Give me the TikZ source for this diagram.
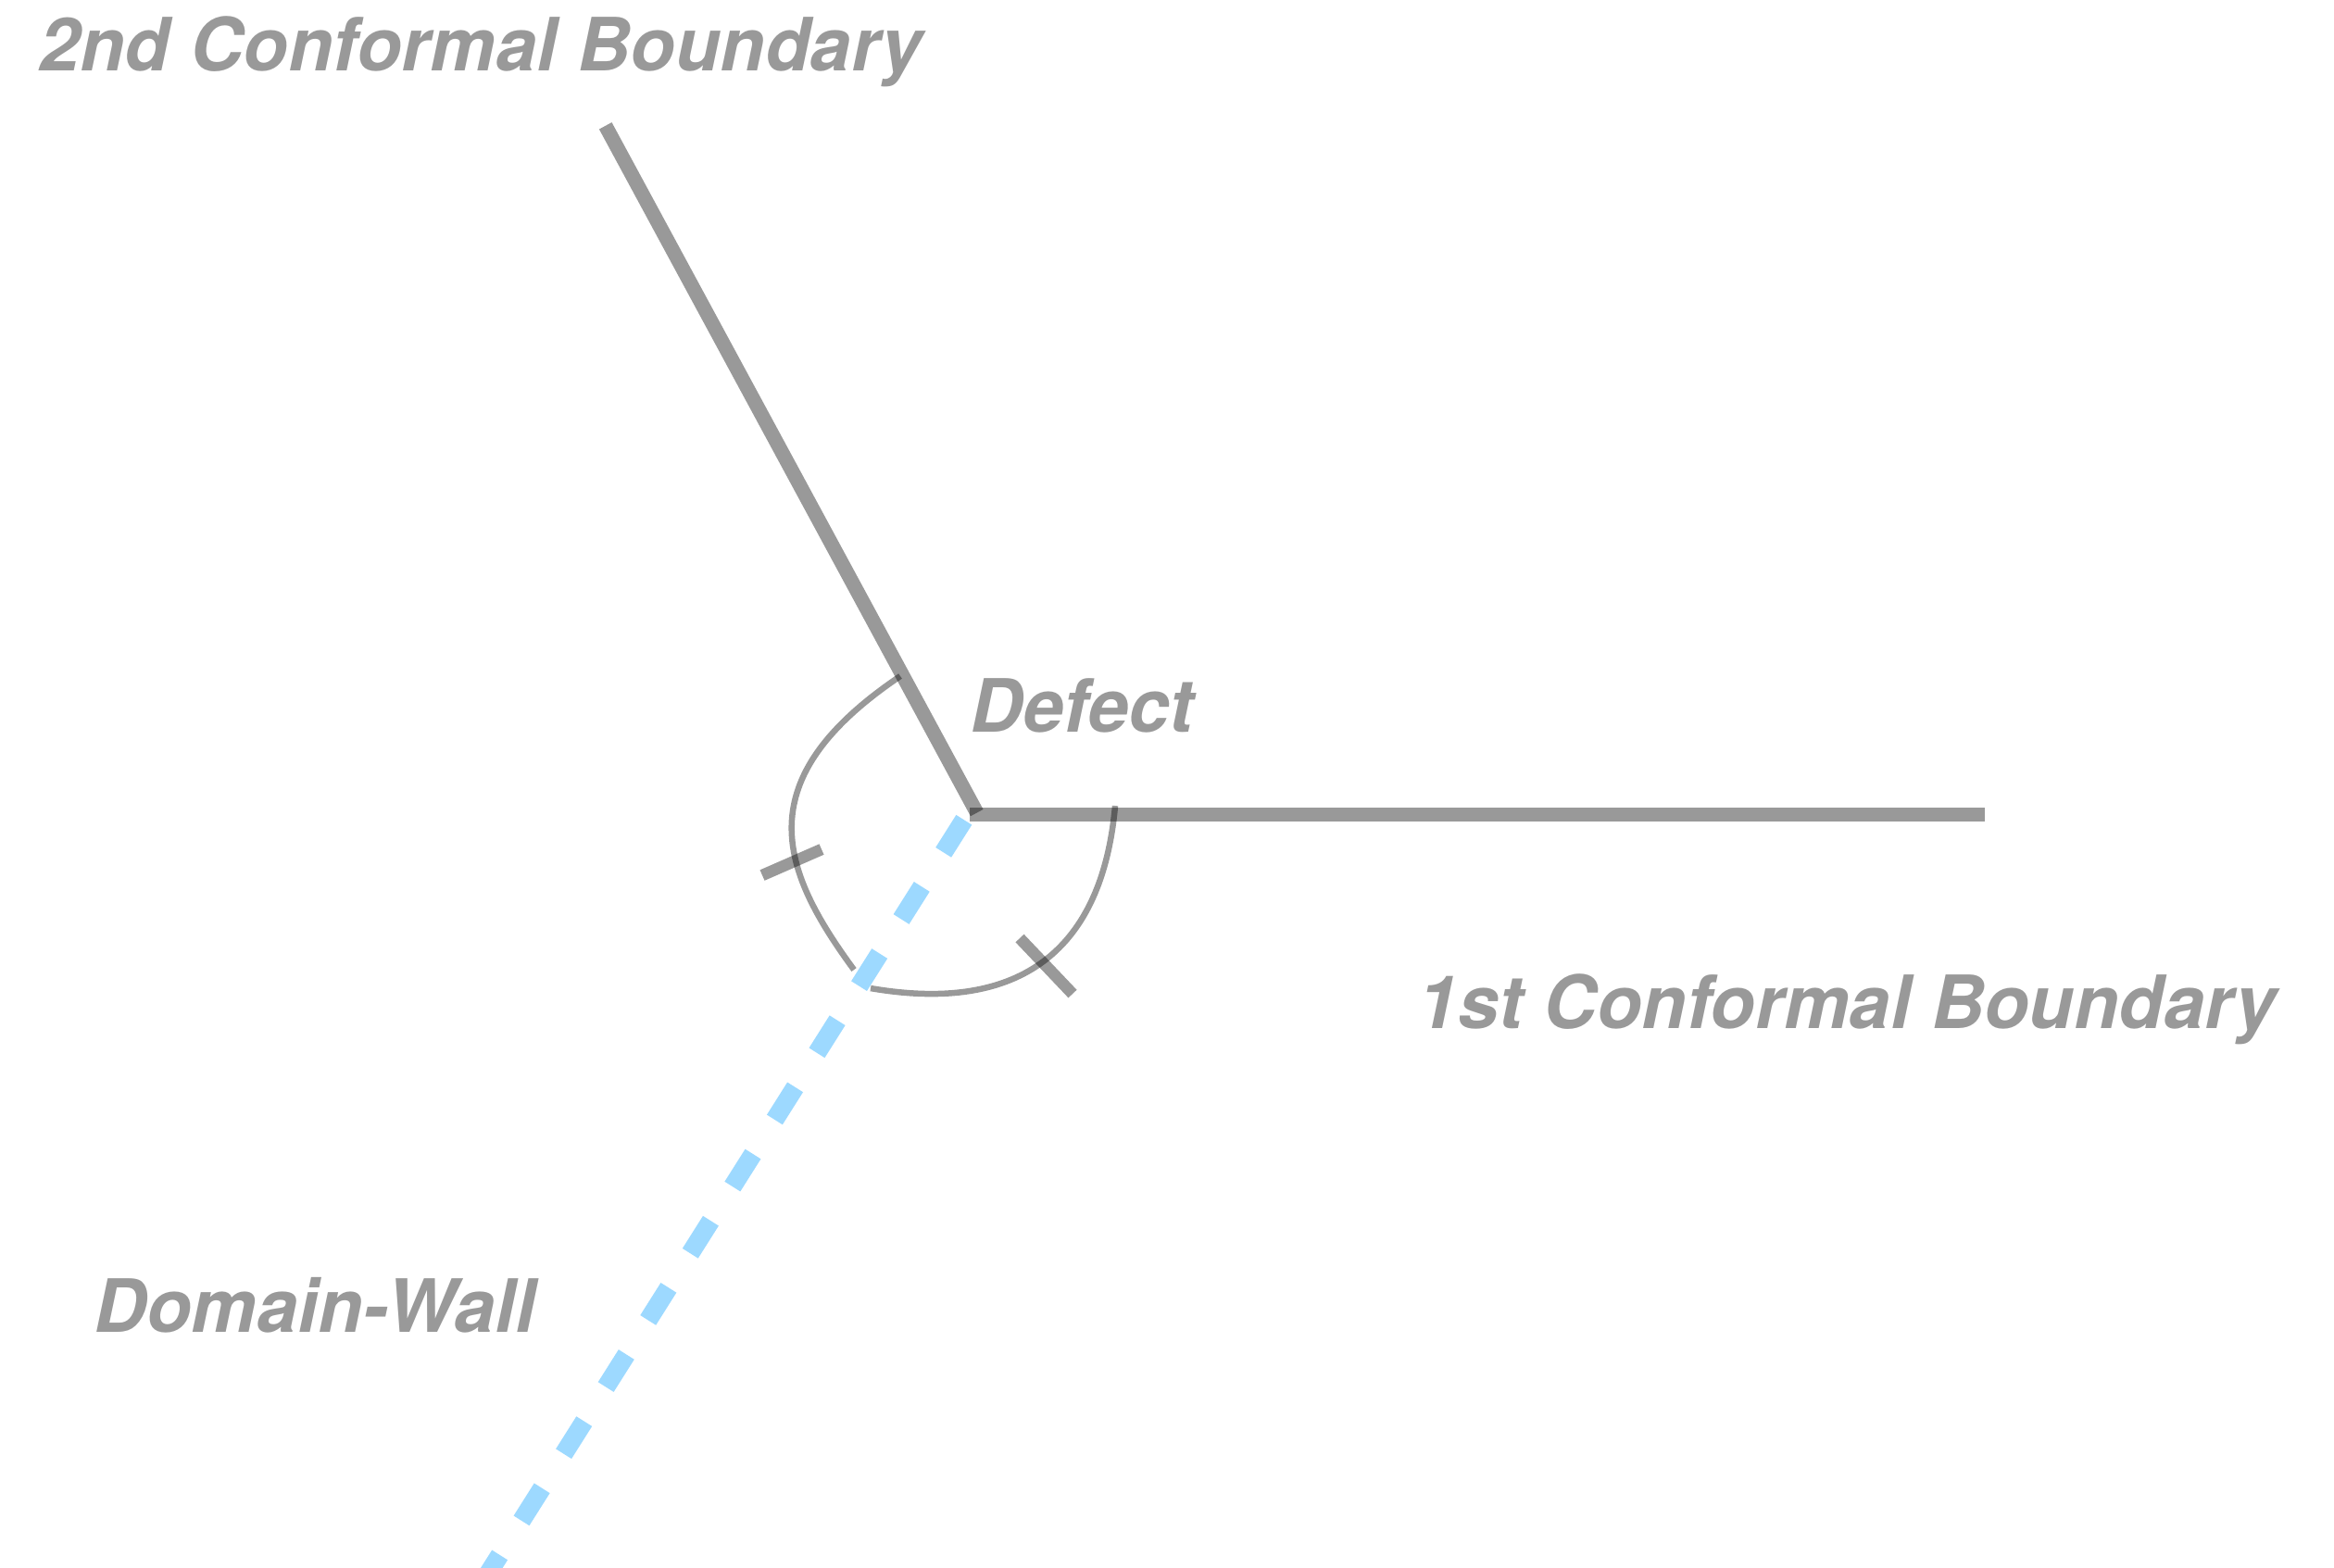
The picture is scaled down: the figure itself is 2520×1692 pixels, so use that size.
\documentclass[tikz,border=0pt]{standalone}
\usepackage{fontspec}
\newfontfamily\lblfont[FakeSlant=0.21]{TeX Gyre Heros}
\definecolor{wallblue}{RGB}{157,217,255}
\begin{document}
\begin{tikzpicture}[x=0.1pt,y=-0.1pt,
  bnd/.style={draw=black, draw opacity=0.4, line width=1.55pt, line cap=butt},
  ang/.style={draw=black, draw opacity=0.4, line width=0.65pt, line cap=butt},
  tck/.style={draw=black, draw opacity=0.4, line width=1.25pt, line cap=butt},
  wall/.style={draw=wallblue, line width=2.0pt, line cap=butt, dash pattern=on 4.15pt off 4.384pt},
  lbl/.style={text=black!40, font=\lblfont\fontsize{7.94}{9}\selectfont\bfseries, inner sep=0pt, anchor=base west}]
\useasboundingbox (0,0) rectangle (2520,1692);
% boundaries
\coordinate (H0) at (1047,879.5);
\coordinate (H1) at (2143,879.5);
\coordinate (S0) at (1054.7,877.5);
\coordinate (S1) at (653.7,135.8);
\coordinate (W0) at (1040.8,885.2);
\coordinate (W1) at (526.3,1700);
% angle arcs and ticks
\coordinate (A1s) at (972,730);
\coordinate (A1e) at (922,1047);
\coordinate (A2s) at (940,1067);
\coordinate (A2e) at (1204,870);
\coordinate (T1a) at (823,945);
\coordinate (T1b) at (887,917);
\coordinate (T2a) at (1101,1013);
\coordinate (T2b) at (1158,1073);

\draw[bnd] (H0) -- (H1);
\draw[bnd] (S0) -- (S1);
\draw[ang] (A1s) .. controls (806,842) and (842,938) .. (A1e);
\draw[ang] (A2s) .. controls (1102.5,1095) and (1190,1025) .. (A2e);
\draw[tck] (T1a) -- (T1b);
\draw[tck] (T2a) -- (T2b);
\draw[wall] (W0) -- (W1);

% labels
\node[lbl] (l2) at (37,76) {2nd Conformal Boundary};
\node[lbl] (l1) at (1525,1110) {1st Conformal Boundary};
\node[lbl] (ld) at (1042,790) {Defect};
\node[lbl] (lw) at (96,1438) {Domain-Wall};
\end{tikzpicture}
\end{document}
